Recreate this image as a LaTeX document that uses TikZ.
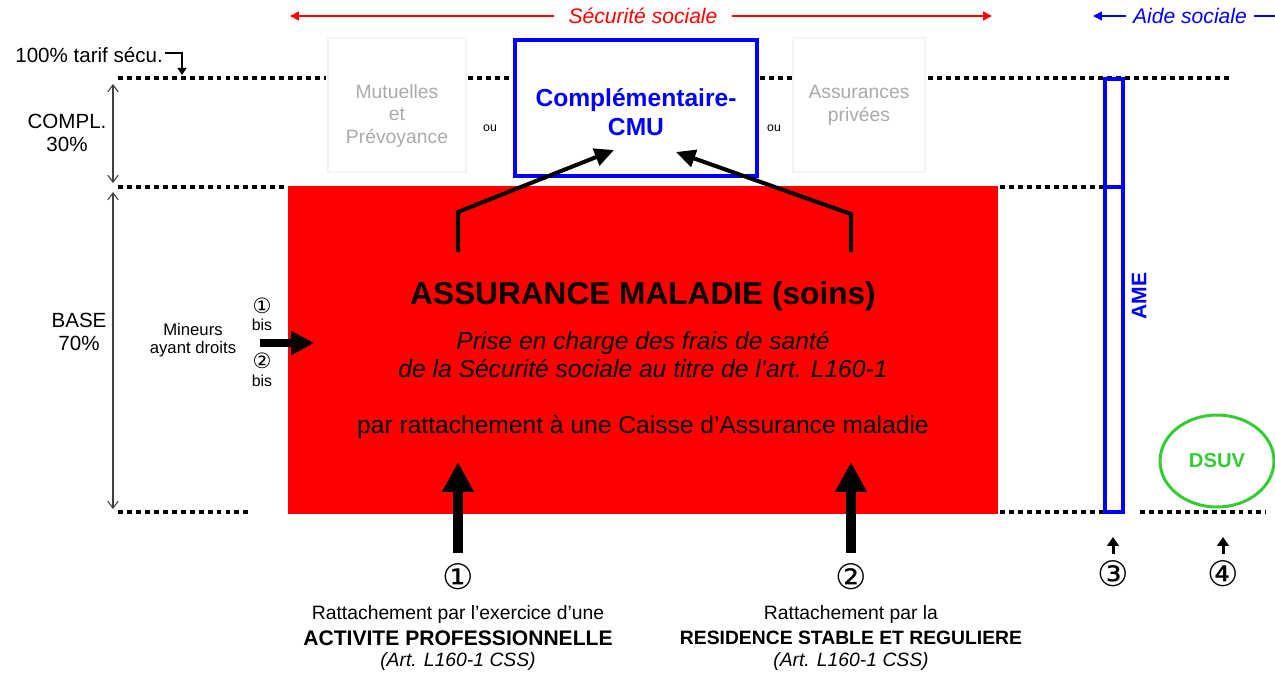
\documentclass[tikz,border=0pt]{standalone}
\usepackage{fontspec}
\setmainfont{Liberation Sans}
\newfontfamily\symf{DejaVu Sans}
\usetikzlibrary{arrows.meta,shapes.geometric}
\definecolor{cmublue}{RGB}{0,0,255}
\definecolor{dsuvgreen}{RGB}{51,204,51}
\definecolor{txtgray}{RGB}{170,170,170}
\definecolor{boxgray}{RGB}{243,243,243}
\definecolor{secred}{RGB}{255,0,0}
\newcommand{\fsz}[1]{\fontsize{#1}{#1}\selectfont}
\begin{document}
\begin{tikzpicture}[x=0.02cm,y=-0.02cm,
  every node/.style={inner sep=0pt,align=center},
  dots/.style={line width=2.8pt,dash pattern=on 2.8pt off 2.3pt},
  graybox/.style={draw=boxgray,line width=0.7pt,minimum width=2.76cm,minimum height=2.68cm},
  graytxt/.style={text=txtgray,font=\fontsize{11}{13}\selectfont},
  dimarrow/.style={draw=black!75,line width=0.6pt,{Straight Barb[length=4pt,width=6pt]}-{Straight Barb[length=4pt,width=6pt]}},
  bigup/.style={line width=5.5pt,-{Triangle[length=17pt,width=17pt]}},
  cmuarrow/.style={line width=2.3pt,-{Triangle[length=11pt,width=10pt]}},
  smallup/.style={line width=1.7pt,-{Triangle[length=5pt,width=6.5pt]}},
  circnum/.style={font=\symf\fsz{20}},
  circsmall/.style={font=\symf\fsz{12}},
  bottomtxt/.style={font=\fontsize{11}{13.4}\selectfont},
  redline/.style={draw=secred,line width=0.9pt,-{Triangle[length=5pt,width=5pt]}},
  blueline/.style={draw=cmublue,line width=0.9pt,-{Triangle[length=5pt,width=5pt]}}
]
\fill[white] (0,0) rectangle (1275,676);
\path[use as bounding box] (0,0) rectangle (1275,676);

% dotted levels
\draw[dots] (118,78) -- (326,78);
\draw[dots] (468,78) -- (512,78);
\draw[dots] (760,78) -- (792,78);
\draw[dots] (928,78) -- (1232,78);
\draw[dots] (118,187) -- (288,187);
\draw[dots] (1000,187) -- (1104,187);
\draw[dots] (118,512) -- (252,512);
\draw[dots] (1000,512) -- (1104,512);
\draw[dots] (1140,512) -- (1266,512);

% top labels
\node[text=secred,font=\itshape\fsz{12},inner xsep=8pt] (sec) at (643,16) {Sécurité sociale};
\draw[redline] (sec.west) -- (290,16);
\draw[redline] (sec.east) -- (992,16);
\node[text=cmublue,font=\itshape\fsz{12},inner xsep=4pt] (aide) at (1190,16) {Aide sociale};
\draw[blueline] (aide.west) -- (1093,16);
\coordinate (aideR) at (1278,16);
\draw[cmublue,line width=0.9pt] (aide.east) -- (aideR);

% left labels
\node[font=\fsz{11.7},anchor=west] (pct) at (15,55) {100\% tarif sécu.};
\draw[line width=0.9pt,-{Triangle[length=4pt,width=5pt]}] ([xshift=1pt,yshift=1pt]pct.east) -| (182,75);
\node[font=\fontsize{11.7}{13}\selectfont] (compl) at (67,133) {COMPL.\\30\%};
\node[font=\fontsize{11.7}{13}\selectfont] (base) at (79,332) {BASE\\70\%};
\coordinate (cT) at (113,84);
\coordinate (cB) at (113,183);
\coordinate (bT) at (113,192);
\coordinate (bB) at (113,509);
\draw[dimarrow] (cT) -- (cB);
\draw[dimarrow] (bT) -- (bB);

% complementary boxes
\node[graybox] (mut) at (397,105) {};
\node[graytxt] (muttxt) at (397,116) {Mutuelles\\et\\Prévoyance};
\node[font=\fsz{7}] (ou1) at (490,128) {ou};
\node[draw=cmublue,line width=2.3pt,minimum width=4.84cm,minimum height=2.72cm] (cmu) at (636,108) {};
\node[text=cmublue,font=\bfseries\fontsize{14}{16.4}\selectfont] (cmutxt) at (636,112) {Complémentaire-\\CMU};
\node[font=\fsz{7}] (ou2) at (774,128) {ou};
\node[graybox,minimum width=2.64cm,graytxt] (priv) at (859,105) {Assurances\\privées};

% red box
\node[fill=secred,minimum width=14.2cm,minimum height=6.56cm] (am) at (643,350) {};
\node[font=\bfseries\fsz{18}] (title) at (643,296) {ASSURANCE MALADIE (soins)};
\node[font=\itshape\fontsize{14}{15.9}\selectfont] (prise) at (643,355) {Prise en charge des frais de santé\\de la Sécurité sociale au titre de l’art. L160-1};
\node[font=\fsz{14}] (ratt) at (643,427) {par rattachement à une Caisse d’Assurance maladie};

% arrows to CMU
\coordinate (aL) at (458,252);
\coordinate (aR) at (851,252);
\coordinate (cmuL) at (614,150);
\coordinate (cmuR) at (676,152);
\draw[cmuarrow] (aL) -- (458,212) -- (cmuL);
\draw[cmuarrow] (aR) -- (851,214) -- (cmuR);

% minors
\node[font=\fontsize{9.5}{10.5}\selectfont] (min) at (193,340) {Mineurs\\ayant droits};
\node[circsmall] (b1) at (262,306) {①};
\node[font=\fsz{9}] (b1t) at (262,325) {bis};
\node[circsmall] (b2) at (262,361) {②};
\node[font=\fsz{9}] (b2t) at (262,381) {bis};
\coordinate (mS) at (260,343);
\coordinate (mE) at (314,343);
\draw[line width=4.6pt,-{Triangle[length=13pt,width=13pt]}] (mS) -- (mE);

% AME
\node[draw=cmublue,line width=2.3pt,minimum width=0.36cm,minimum height=8.66cm] (ame) at (1114,295.5) {};
\draw[cmublue,line width=2.3pt] (1105,187) -- (1123,187);
\node[text=cmublue,font=\bfseries\fsz{12},rotate=90] (ametxt) at (1139,296) {AME};

% DSUV
\node[draw=dsuvgreen,line width=1.7pt,ellipse,minimum width=2.28cm,minimum height=1.84cm,text=dsuvgreen,font=\bfseries\fsz{11.5}] (dsuv) at (1217,461) {DSUV};

% bottom numbers and arrows
\node[circnum] (n1) at (458,577) {①};
\node[circnum] (n2) at (851,577) {②};
\node[circnum] (n3) at (1113,574) {③};
\node[circnum] (n4) at (1223,574) {④};
\coordinate (s1) at (458,553);
\coordinate (t1) at (458,462);
\coordinate (s2) at (851,553);
\coordinate (t2) at (851,462);
\draw[bigup] (s1) -- (t1);
\draw[bigup] (s2) -- (t2);
\coordinate (s3) at (1113,554);
\coordinate (t3) at (1113,537);
\coordinate (s4) at (1223,554);
\coordinate (t4) at (1223,537);
\draw[smallup] (s3) -- (t3);
\draw[smallup] (s4) -- (t4);

% bottom texts
\node[bottomtxt] (r1a) at (458,614) {Rattachement par l’exercice d’une};
\node[font=\bfseries\fsz{12}] (r1b) at (458,638) {ACTIVITE PROFESSIONNELLE};
\node[font=\itshape\fsz{11}] (r1c) at (458,661) {(Art. L160-1 CSS)};
\node[bottomtxt] (r2a) at (851,614) {Rattachement par la};
\node[font=\bfseries\fsz{11}] (r2b) at (851,638) {RESIDENCE STABLE ET REGULIERE};
\node[font=\itshape\fsz{11}] (r2c) at (851,661) {(Art. L160-1 CSS)};
\end{tikzpicture}
\end{document}
